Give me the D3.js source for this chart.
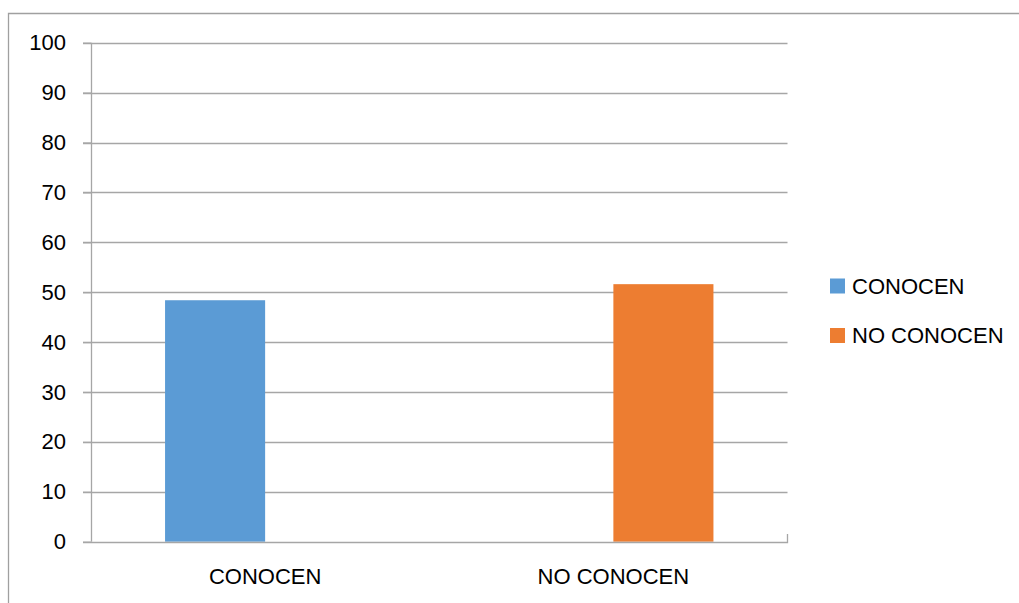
<!DOCTYPE html>
<html>
<head>
<meta charset="utf-8">
<script src="https://cdn.jsdelivr.net/npm/d3@7"></script>
<style>
  html, body { margin: 0; padding: 0; background: #ffffff; }
  svg { display: block; }
  text { font-family: "Liberation Sans", Arial, sans-serif; fill: #000; }
</style>
</head>
<body>
<svg id="chart" width="1019" height="603"></svg>
<script>
// Chart data
const categories = ["CONOCEN", "NO CONOCEN"];
const seriesNames = ["CONOCEN", "NO CONOCEN"];
const seriesColors = ["#5b9bd5", "#ed7d31"];
// values[s][c]: series s within category c
const conocenValues = [48.39, 0];
const noConocenValues = [0, 51.61];
const yTicks = [0, 10, 20, 30, 40, 50, 60, 70, 80, 90, 100];

const seriesValues = [conocenValues, noConocenValues];

const svg = d3.select("#chart");
const W = 1019, H = 603;
const plot = { left: 91, right: 787.5, top: 42.7, bottom: 541.7 };

// Outer frame (left and top edges visible)
svg.append("path")
  .attr("d", `M8.5,${H} L8.5,13.5 L${W},13.5`)
  .attr("fill", "none")
  .attr("stroke", "#a0a0a0")
  .attr("stroke-width", 1.3);

const x0 = d3.scaleBand()
  .domain(categories)
  .range([plot.left, plot.right])
  .paddingInner(0)
  .paddingOuter(0);

// Inner band for series within each category (gap width ~ 150%)
const x1 = d3.scaleBand()
  .domain(seriesNames)
  .range([0, x0.bandwidth()])
  .paddingInner(0)
  .paddingOuter(0.74);

const y = d3.scaleLinear()
  .domain([0, 100])
  .range([plot.bottom, plot.top]);

const gridColor = "#a6a6a6";

// Horizontal gridlines with left tick stubs
const grid = svg.append("g");
grid.selectAll("line")
  .data(yTicks.filter(t => t > 0))
  .enter().append("line")
  .attr("x1", plot.left - 8)
  .attr("x2", plot.right)
  .attr("y1", d => Math.round(y(d)) + 0.5)
  .attr("y2", d => Math.round(y(d)) + 0.5)
  .attr("stroke", gridColor)
  .attr("stroke-width", 1.3);

// Bars
const groups = svg.append("g").selectAll("g")
  .data(categories)
  .enter().append("g")
  .attr("transform", d => `translate(${x0(d)},0)`);

groups.selectAll("rect")
  .data((c, ci) => seriesNames.map((s, si) => ({ s, si, v: seriesValues[si][ci] })))
  .enter().append("rect")
  .filter(d => d.v > 0)
  .attr("x", d => x1(d.s))
  .attr("width", x1.bandwidth())
  .attr("y", d => y(d.v))
  .attr("height", d => y(0) - y(d.v))
  .attr("fill", d => seriesColors[d.si]);

// Y axis
const yAxis = svg.append("g")
  .attr("transform", `translate(${plot.left},0)`)
  .call(d3.axisLeft(y).tickValues(yTicks).tickSize(8).tickPadding(17).tickFormat(d3.format("d")));
yAxis.select(".domain").remove();
yAxis.selectAll(".tick line").attr("stroke", gridColor).attr("stroke-width", 1.3);
yAxis.selectAll(".tick text")
  .attr("font-size", 22)
  .attr("font-family", "Liberation Sans, Arial, sans-serif")
  .attr("fill", "#000");

svg.append("line")
  .attr("x1", plot.left + 0.5).attr("x2", plot.left + 0.5)
  .attr("y1", plot.top).attr("y2", plot.bottom)
  .attr("stroke", gridColor).attr("stroke-width", 1.3);

// X axis
const xAxis = svg.append("g")
  .attr("transform", `translate(0,${Math.round(plot.bottom) + 0.5})`)
  .call(d3.axisBottom(x0).tickSize(0).tickPadding(26));
xAxis.select(".domain").remove();
xAxis.selectAll(".tick text")
  .attr("font-size", 22)
  .attr("font-family", "Liberation Sans, Arial, sans-serif")
  .attr("fill", "#000");

svg.append("path")
  .attr("d", `M${plot.left - 8},${Math.round(plot.bottom) + 0.5} L${plot.right},${Math.round(plot.bottom) + 0.5} L${plot.right},${Math.round(plot.bottom) - 8}`)
  .attr("fill", "none")
  .attr("stroke", gridColor)
  .attr("stroke-width", 1.3);

// Legend
const legend = svg.append("g").attr("transform", "translate(830,0)");
const legendY = [286, 335.5];
seriesNames.forEach((name, i) => {
  legend.append("rect")
    .attr("x", 0).attr("y", legendY[i] - 7.5)
    .attr("width", 15).attr("height", 15)
    .attr("fill", seriesColors[i]);
  legend.append("text")
    .attr("x", 22).attr("y", legendY[i])
    .attr("dy", "0.36em")
    .attr("font-size", 22)
    .text(name);
});
</script>
</body>
</html>
